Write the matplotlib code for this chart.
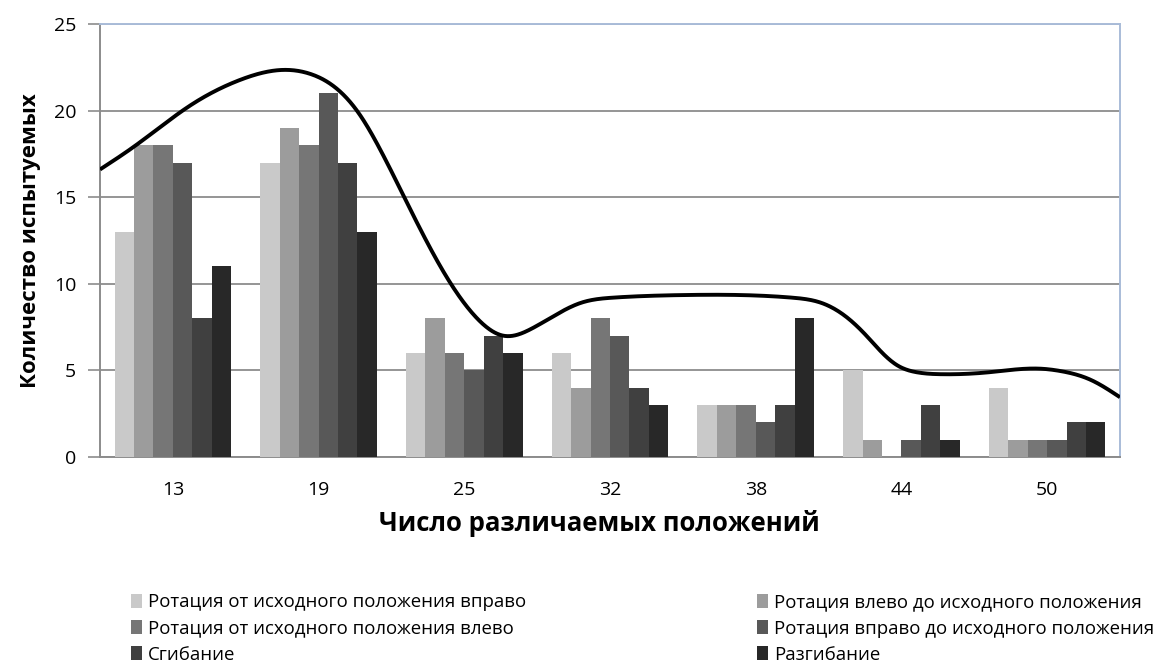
import numpy as np
import matplotlib
matplotlib.use("Agg")
import matplotlib.pyplot as plt
from matplotlib.patches import Patch

plt.rcParams['font.family'] = ['Open Sans', 'DejaVu Sans']

categories = ["13", "19", "25", "32", "38", "44", "50"]
series_names = [
    "Ротация от исходного положения вправо",
    "Ротация влево до исходного положения",
    "Ротация от исходного положения влево",
    "Ротация вправо до исходного положения",
    "Сгибание",
    "Разгибание",
]
rot_right_from = [13, 17, 6, 6, 3, 5, 4]
rot_left_to = [18, 19, 8, 4, 3, 1, 1]
rot_left_from = [18, 18, 6, 8, 3, 0, 1]
rot_right_to = [17, 21, 5, 7, 2, 1, 1]
flexion = [8, 17, 7, 4, 3, 3, 2]
extension = [11, 13, 6, 3, 8, 1, 2]
series_values = [rot_right_from, rot_left_to, rot_left_from,
                 rot_right_to, flexion, extension]
series_colors = ["#c9c9c9", "#9c9c9c", "#767676", "#585858", "#404040", "#282828"]

# trend curve knots (category position, value)
trend_x = [-0.5, -0.27, 0.12, 0.47, 0.76, 0.95, 1.12, 1.28, 1.42, 1.6, 1.85,
           2.1, 2.27, 2.46, 2.8, 3.02, 3.5, 3.9, 4.25, 4.45, 4.62, 4.76, 4.87,
           4.97, 5.1, 5.27, 5.61, 5.95, 6.1, 6.3, 6.5]
trend_y = [16.6, 17.9, 20.3, 21.8, 22.35, 22.1, 21.3, 19.8, 17.8, 14.8, 10.8,
           7.9, 7.0, 7.4, 8.9, 9.2, 9.35, 9.35, 9.2, 8.9, 8.1, 7.0, 6.0,
           5.3, 4.9, 4.78, 4.9, 5.1, 4.95, 4.45, 3.45]


def natural_spline(xs, ys, n=1200):
    xs = np.asarray(xs, float)
    ys = np.asarray(ys, float)
    m = len(xs)
    h = np.diff(xs)
    A = np.zeros((m, m))
    b = np.zeros(m)
    A[0, 0] = A[-1, -1] = 1.0
    for i in range(1, m - 1):
        A[i, i - 1] = h[i - 1]
        A[i, i] = 2 * (h[i - 1] + h[i])
        A[i, i + 1] = h[i]
        b[i] = 3 * ((ys[i + 1] - ys[i]) / h[i] - (ys[i] - ys[i - 1]) / h[i - 1])
    c = np.linalg.solve(A, b)
    xx = np.linspace(xs[0], xs[-1], n)
    idx = np.clip(np.searchsorted(xs, xx) - 1, 0, m - 2)
    dx = xx - xs[idx]
    bb = (ys[1:] - ys[:-1]) / h - h * (2 * c[:-1] + c[1:]) / 3
    dd = (c[1:] - c[:-1]) / (3 * h)
    yy = ys[idx] + bb[idx] * dx + c[idx] * dx ** 2 + dd[idx] * dx ** 3
    return xx, yy


fig = plt.figure(figsize=(11.68, 6.65), dpi=100)
ax = fig.add_axes([0.0856, 0.3128, 0.8733, 0.6511])

x = np.arange(len(categories))
n = len(series_values)
width = 0.8 / n
for j, (vals, col) in enumerate(zip(series_values, series_colors)):
    ax.bar(x + (j - (n - 1) / 2) * width, vals, width=width, color=col,
           zorder=3, linewidth=0)

cx, cy = natural_spline(trend_x, trend_y)
ax.plot(cx, cy, color="black", lw=2.8, zorder=4, solid_capstyle="butt")

ax.set_xlim(-0.5, len(categories) - 0.5)
ax.set_ylim(0, 25)
ax.set_yticks(range(0, 26, 5))
ax.set_xticks(x)
ax.set_xticklabels(categories)
ax.yaxis.grid(True, color="#8c8c8c", lw=1.3, zorder=1)
ax.set_axisbelow(True)

ax.tick_params(axis="y", length=9, width=1.2, color="#8c8c8c", labelsize=14, pad=8)
ax.tick_params(axis="x", length=0, labelsize=14, pad=17)
for s in ("left", "bottom"):
    ax.spines[s].set_color("#8c8c8c")
    ax.spines[s].set_linewidth(1.4)
for s in ("top", "right"):
    ax.spines[s].set_color("#a9bcd8")
    ax.spines[s].set_linewidth(1.4)

ax.set_ylabel("Количество испытуемых", fontsize=16, fontweight="bold", labelpad=9)
ax.set_xlabel("Число различаемых положений", fontsize=18.5, fontweight="bold", labelpad=8)
ax.xaxis.label.set_x(0.49)

# legend filled row by row: two entries per row
order = [0, 2, 4, 1, 3, 5]
handles = [Patch(facecolor=series_colors[i], edgecolor="none") for i in order]
labels = [series_names[i] for i in order]
fig.legend(handles, labels, loc="upper left", bbox_to_anchor=(0.112, 0.108),
           ncol=2, frameon=False, fontsize=13.4, handlelength=0.62, handleheight=0.78,
           handletextpad=0.3, columnspacing=12.4, labelspacing=0.45, borderaxespad=0,
           borderpad=0)

fig.savefig("out.png", dpi=100)
